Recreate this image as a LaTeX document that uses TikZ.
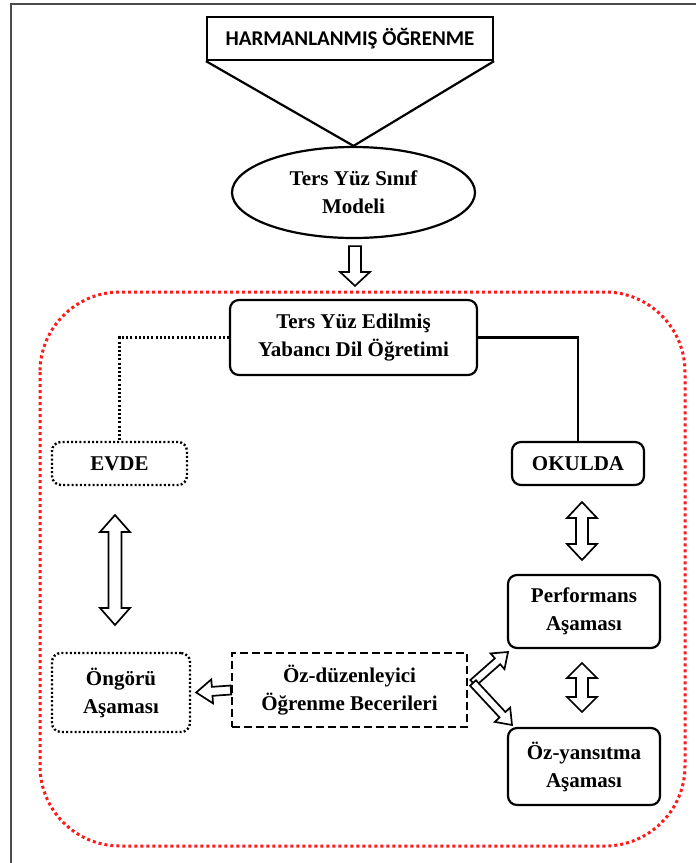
\documentclass[tikz,border=0pt]{standalone}
\usepackage{fontspec}
\setmainfont{Liberation Serif}
\newfontfamily\calib{Carlito}
\usetikzlibrary{calc,shapes.geometric}
\newcommand\dblarrow[5]{%
  \coordinate (da1) at ($(#1)!#5!(#2)$);
  \coordinate (da2) at ($(#2)!#5!(#1)$);
  \draw[blockarrow] (#1) -- ($(da1)!#4!90:(#2)$) -- ($(da1)!#3!90:(#2)$)
    -- ($(da2)!#3!-90:(#1)$) -- ($(da2)!#4!-90:(#1)$) -- (#2)
    -- ($(da2)!#4!90:(#1)$) -- ($(da2)!#3!90:(#1)$)
    -- ($(da1)!#3!-90:(#2)$) -- ($(da1)!#4!-90:(#2)$) -- cycle;}
\newcommand\sglarrow[5]{%
  \coordinate (sa2) at ($(#2)!#5!(#1)$);
  \draw[blockarrow] ($(#1)!#3!90:(#2)$) -- ($(sa2)!#3!-90:(#1)$) -- ($(sa2)!#4!-90:(#1)$) -- (#2)
    -- ($(sa2)!#4!90:(#1)$) -- ($(sa2)!#3!90:(#1)$) -- ($(#1)!#3!-90:(#2)$) -- cycle;}
\begin{document}
\begin{tikzpicture}[x=1pt,y=-1pt,
  txt/.style={font=\fontsize{21}{28}\selectfont\bfseries, align=center, inner sep=0pt},
  rbox/.style={txt, draw, line width=2.2pt, rounded corners=9pt},
  dotbox/.style={txt, draw, line width=2.4pt, rounded corners=9pt, dash pattern=on 2pt off 2.2pt},
  dashbox/.style={txt, draw, line width=2.2pt, dash pattern=on 8pt off 4pt},
  blockarrow/.style={draw, line width=1.7pt, fill=white, line join=miter},
  conn/.style={line width=2.2pt}]
\useasboundingbox (0,0) rectangle (696,863);
\fill[white] (0,0) rectangle (696,863);
% frame
\draw[line width=2pt, black!70] (11,863) -- (11,4) -- (696,4);
% red rounded region
\draw[red!90!white, line width=3pt, dash pattern=on 3pt off 3pt, rounded corners=80pt] (40,292) rectangle (685,846);
% nodes
\node[draw, line width=2.2pt, minimum width=286pt, minimum height=43pt, inner sep=0pt,
  font=\calib\fontsize{21}{24}\selectfont\bfseries] (harm) at (350,38.5) {HARMANLANMIŞ ÖĞRENME};
\node[txt, draw, ellipse, line width=2.2pt, minimum width=243pt, minimum height=91pt] (ell) at (353.5,192.5) {Ters Yüz Sınıf\\Modeli};
\node[rbox, minimum width=247pt, minimum height=75pt] (tyedo) at (353.5,337.5) {Ters Yüz Edilmiş\\Yabancı Dil Öğretimi};
\node[dotbox, minimum width=135pt, minimum height=43pt] (evde) at (119.5,463.5) {EVDE};
\node[rbox, minimum width=132pt, minimum height=43pt] (okulda) at (578,463.5) {OKULDA};
\node[dotbox, minimum width=138pt, minimum height=79pt] (ongoru) at (121,692.5) {Öngörü\\Aşaması};
\node[dashbox, minimum width=235pt, minimum height=74pt] (ozduz) at (349.5,690) {Öz-düzenleyici\\Öğrenme Becerileri};
\node[rbox, minimum width=152pt, minimum height=73pt] (perf) at (584,611.5) {Performans\\Aşaması};
\node[rbox, minimum width=152pt, minimum height=77pt] (ozyan) at (584,766.5) {Öz-yansıtma\\Aşaması};
% connectors
\draw[conn, line join=miter] (harm.south west) -- (ell.north) -- (harm.south east);
\draw[line width=2.4pt, dash pattern=on 2pt off 2.2pt] (tyedo.west) -| (evde.north);
\draw[conn] (tyedo.east) -| (okulda.north);
% block arrows
\coordinate (a1s) at ($(ell.south)+(1.5,7)$);
\coordinate (a1e) at ($(tyedo.north)+(1.5,-13)$);
\sglarrow{a1s}{a1e}{6pt}{15pt}{14pt}
\coordinate (a2s) at (115,515);
\coordinate (a2e) at (115,625);
\dblarrow{a2s}{a2e}{6.5pt}{15pt}{17pt}
\coordinate (a3s) at (582,502);
\coordinate (a3e) at (582,560);
\dblarrow{a3s}{a3e}{6pt}{15pt}{16pt}
\coordinate (a4s) at (582,663);
\coordinate (a4e) at (582,712);
\dblarrow{a4s}{a4e}{6pt}{15pt}{15pt}
\coordinate (a5s) at (ozduz.west);
\coordinate (a5e) at ($(ongoru.east)+(5,0)$);
\sglarrow{a5s}{a5e}{4.5pt}{12pt}{16pt}
\coordinate (apex) at (473,683);
\coordinate (a6e) at (508,652);
\coordinate (a7e) at (512,725);
\sglarrow{apex}{a6e}{4pt}{10.5pt}{14pt}
\sglarrow{apex}{a7e}{4pt}{10.5pt}{14pt}
\end{tikzpicture}
\end{document}
